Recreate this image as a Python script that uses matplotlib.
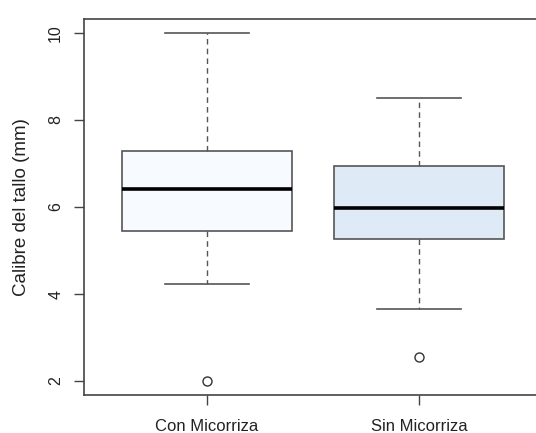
import matplotlib

matplotlib.use("Agg")

import matplotlib.pyplot as plt

plt.rcParams["font.family"] = ["Liberation Sans", "DejaVu Sans"]

# Five-number summaries per treatment (stem calibre, mm)
groups = ["Con Micorriza", "Sin Micorriza"]
whisker_low = [4.22, 3.66]
quartile_1 = [5.45, 5.27]
medians = [6.42, 5.97]
quartile_3 = [7.29, 6.94]
whisker_high = [10.0, 8.5]
outliers = [[2.0], [2.55]]

FILLS = ["#F7FBFF", "#DEEBF7"]
EDGE = "#555555"

stats = [
    {
        "label": name,
        "whislo": lo,
        "q1": q1,
        "med": med,
        "q3": q3,
        "whishi": hi,
        "fliers": fl,
    }
    for name, lo, q1, med, q3, hi, fl in zip(
        groups, whisker_low, quartile_1, medians, quartile_3, whisker_high, outliers
    )
]

fig = plt.figure(figsize=(5.36, 4.33), dpi=100)
# the plot region runs past the right edge of the canvas
ax = fig.add_axes([84 / 536, 1 - 395 / 433, 458 / 536, 376 / 433])

parts = ax.bxp(
    stats,
    positions=[1, 2],
    widths=0.8,
    patch_artist=True,
    showfliers=True,
    boxprops=dict(edgecolor=EDGE, linewidth=1.2),
    whiskerprops=dict(color=EDGE, linewidth=1.0, linestyle=(0, (4, 3))),
    capprops=dict(color=EDGE, linewidth=1.2),
    medianprops=dict(color="black", linewidth=2.6, solid_capstyle="butt"),
    flierprops=dict(
        marker="o",
        markersize=6.5,
        markerfacecolor="none",
        markeredgecolor="#333333",
        markeredgewidth=1.0,
    ),
)
for box, colour in zip(parts["boxes"], FILLS):
    box.set_facecolor(colour)
for cap in parts["caps"]:
    x0, x1 = cap.get_xdata()
    mid = (x0 + x1) / 2
    cap.set_xdata([mid - 0.2, mid + 0.2])

ax.set_xlim(0.42, 2.58)
ax.set_ylim(1.68, 10.32)
ax.set_yticks([2, 4, 6, 8, 10])
ax.set_yticklabels(["2", "4", "6", "8", "10"], rotation=90, va="center", fontsize=11.5)
ax.set_xticks([1, 2])
ax.set_xticklabels(groups, fontsize=12)
ax.tick_params(axis="both", length=7, width=1.0, color="#444444", labelcolor="#222222")
ax.tick_params(axis="y", pad=8)
ax.tick_params(axis="x", pad=10)
ax.set_ylabel("Calibre del tallo (mm)", fontsize=13.5, color="#222222", labelpad=13)

for spine in ax.spines.values():
    spine.set_color("#444444")
    spine.set_linewidth(1.2)

fig.savefig("out.png", dpi=100)
